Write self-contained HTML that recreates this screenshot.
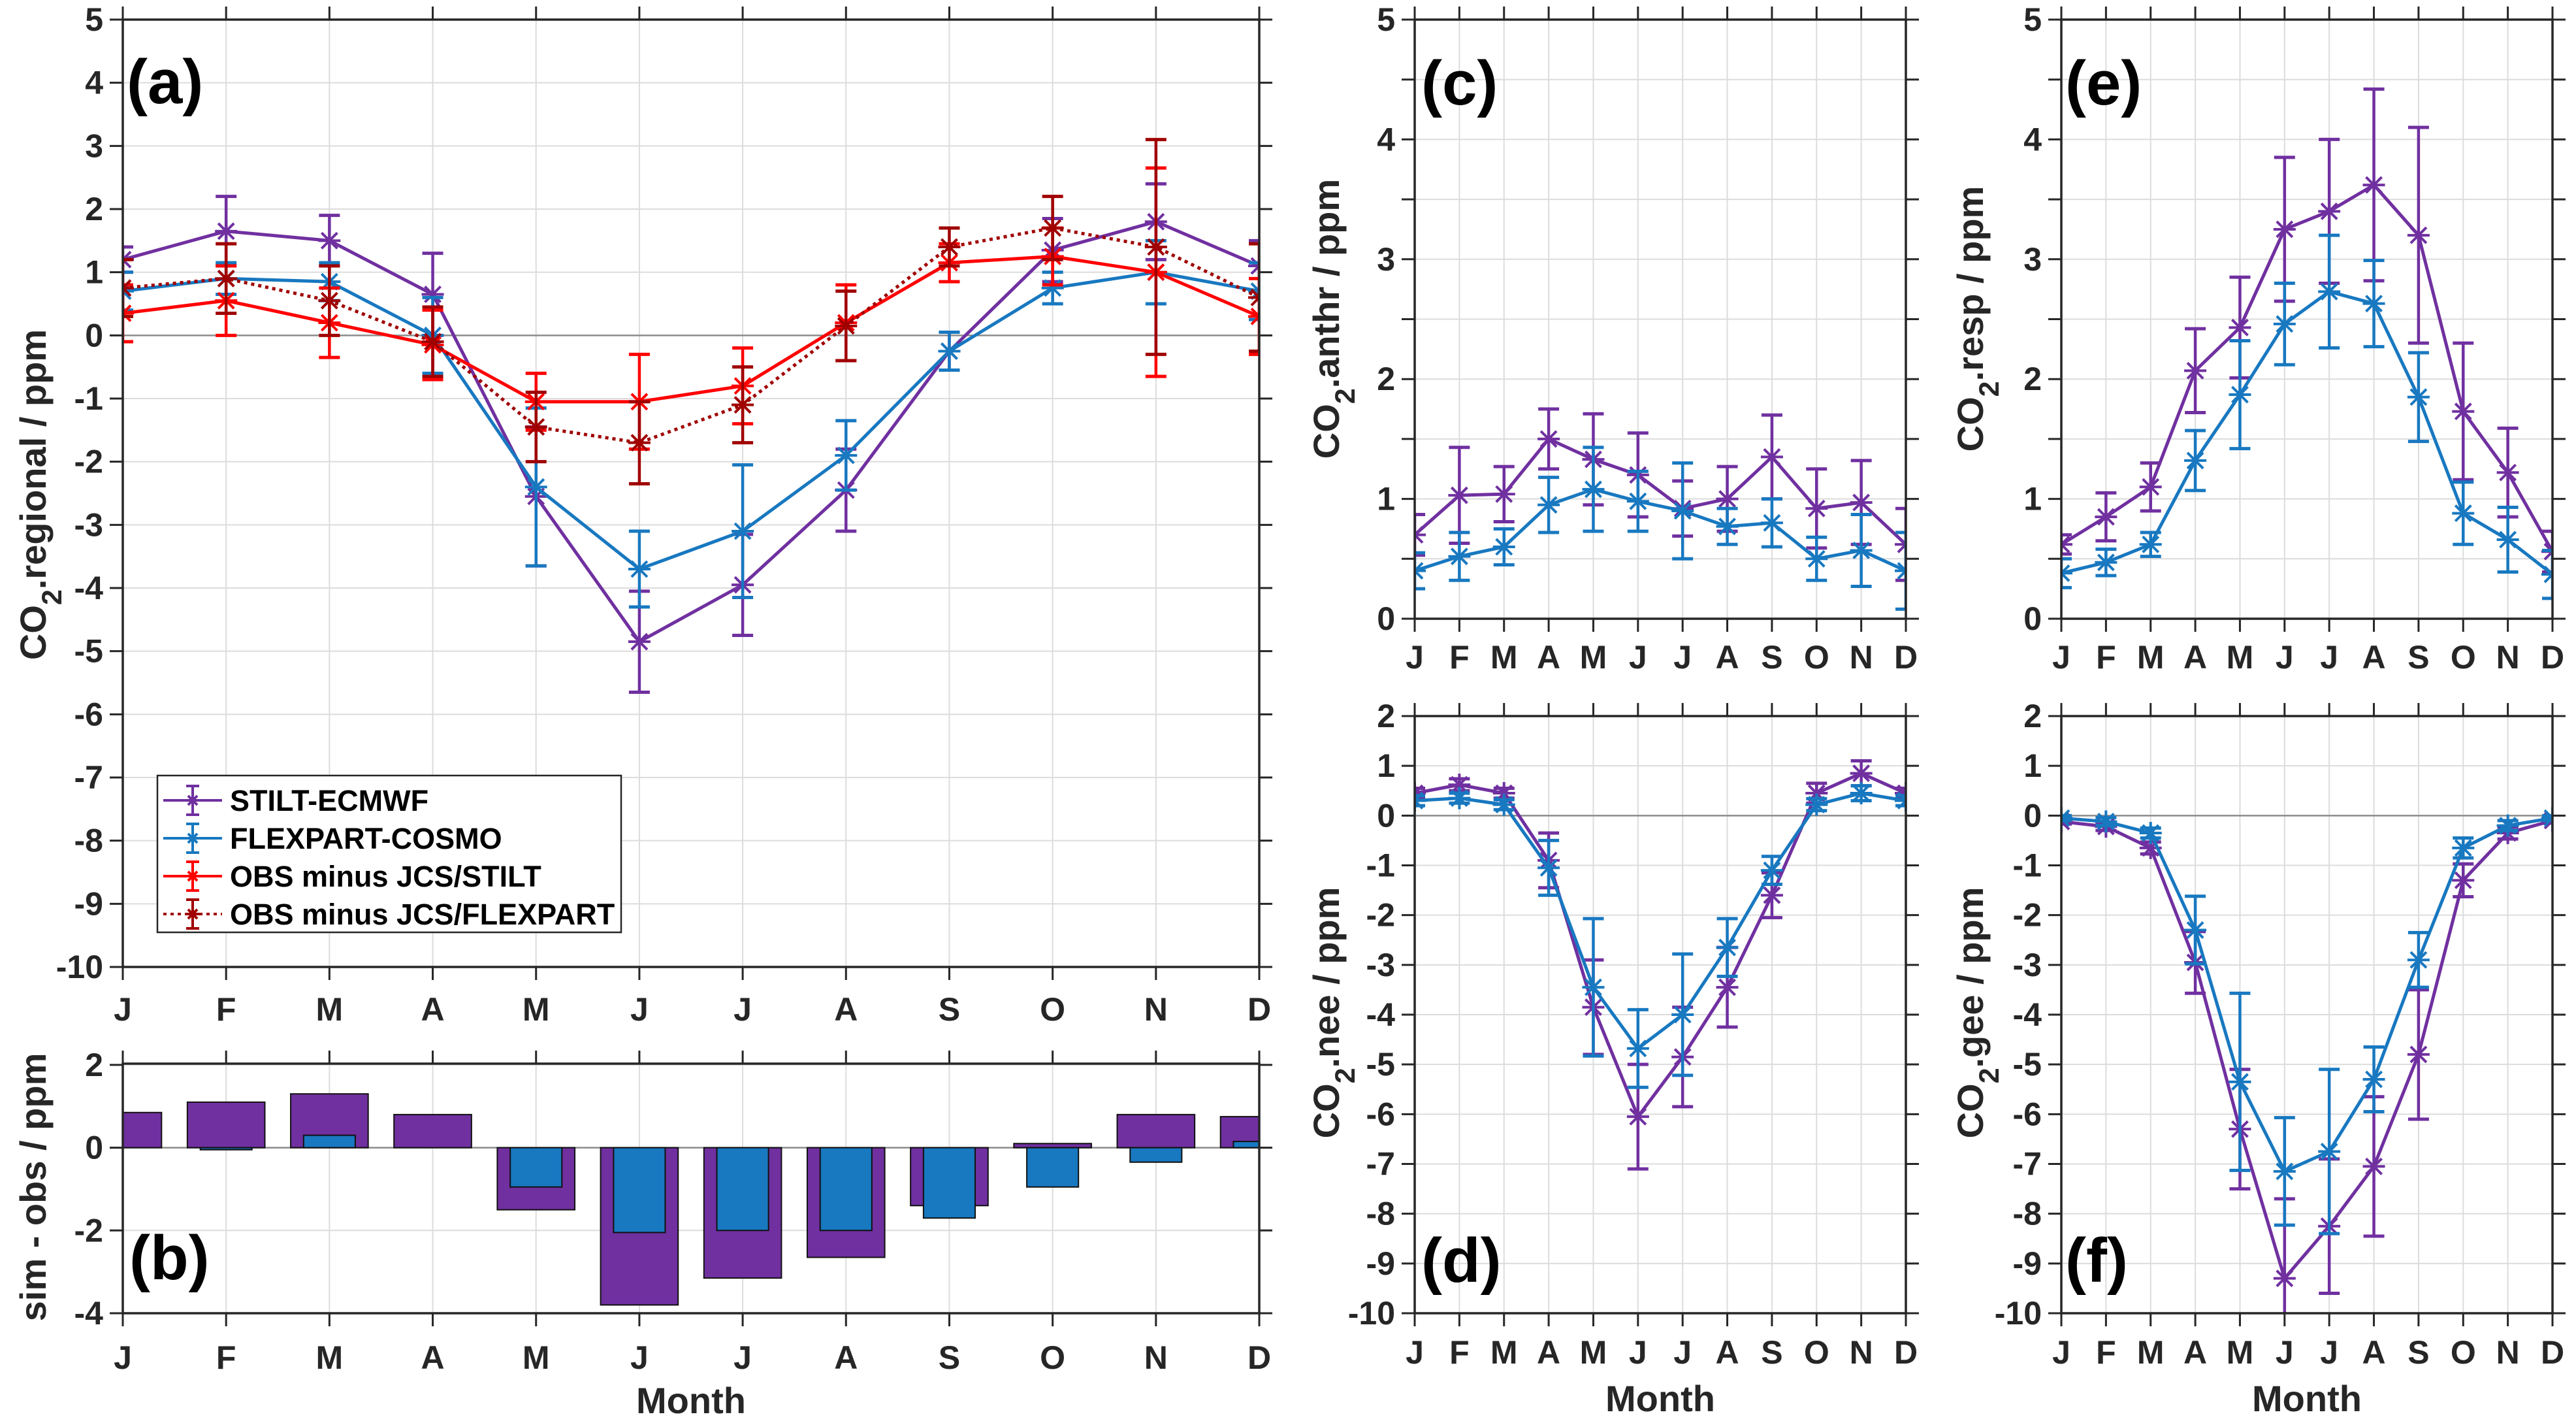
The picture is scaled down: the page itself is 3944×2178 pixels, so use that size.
<!DOCTYPE html>
<html><head><meta charset="utf-8"><style>
html,body{margin:0;padding:0;background:#fff}
svg{display:block;font-family:"Liberation Sans",Arial,sans-serif;font-weight:bold}
</style></head><body>
<svg id="fig" width="3944" height="2178" viewBox="0 0 3944 2178" xmlns="http://www.w3.org/2000/svg"></svg>
<script>
const months = ['J','F','M','A','M','J','J','A','S','O','N','D'];
// Panel a
const aStilt = [1.2,1.65,1.5,0.65,-2.55,-4.85,-3.95,-2.45,-0.25,1.35,1.8,1.1];
const aStiltErr = [0.2,0.55,0.4,0.65,1.1,0.8,0.8,0.65,0.3,0.5,0.6,0.4];
const aFlex = [0.7,0.9,0.85,0.0,-2.4,-3.7,-3.1,-1.9,-0.25,0.75,1.0,0.7];
const aFlexErr = [0.3,0.25,0.3,0.6,1.25,0.6,1.05,0.55,0.3,0.25,0.5,0.45];
const aObsStilt = [0.35,0.55,0.2,-0.15,-1.05,-1.05,-0.8,0.2,1.15,1.25,1.0,0.3];
const aObsStiltErr = [0.45,0.55,0.55,0.55,0.45,0.75,0.6,0.6,0.3,0.45,1.65,0.6];
const aObsFlex = [0.75,0.9,0.55,-0.1,-1.45,-1.7,-1.1,0.15,1.4,1.7,1.4,0.6];
const aObsFlexErr = [0.45,0.55,0.55,0.55,0.55,0.65,0.6,0.55,0.3,0.5,1.7,0.85];
// Panel b
const bStilt = [0.85,1.1,1.3,0.8,-1.5,-3.8,-3.15,-2.65,-1.4,0.1,0.8,0.75];
const bFlex = [0,-0.05,0.3,0,-0.95,-2.05,-2.0,-2.0,-1.7,-0.95,-0.35,0.15];
// Panel c
const cStilt = [0.7,1.03,1.04,1.5,1.33,1.2,0.92,1.0,1.35,0.92,0.97,0.62];
const cStiltErr = [0.17,0.4,0.23,0.25,0.38,0.35,0.23,0.27,0.35,0.33,0.35,0.3];
const cFlex = [0.4,0.52,0.6,0.95,1.08,0.98,0.9,0.77,0.8,0.5,0.57,0.4];
const cFlexErr = [0.15,0.2,0.15,0.23,0.35,0.25,0.4,0.15,0.2,0.18,0.3,0.32];
// Panel e
const eStilt = [0.62,0.85,1.1,2.07,2.43,3.25,3.4,3.62,3.2,1.73,1.22,0.56];
const eStiltErr = [0.08,0.2,0.2,0.35,0.42,0.6,0.6,0.8,0.9,0.57,0.37,0.17];
const eFlex = [0.38,0.47,0.62,1.32,1.87,2.46,2.73,2.63,1.85,0.88,0.66,0.37];
const eFlexErr = [0.12,0.11,0.1,0.25,0.45,0.34,0.47,0.36,0.37,0.26,0.27,0.2];
// Panel d
const dStilt = [0.45,0.62,0.45,-0.9,-3.85,-6.05,-4.85,-3.45,-1.6,0.45,0.85,0.45];
const dStiltErr = [0.1,0.12,0.1,0.55,0.95,1.05,1.0,0.8,0.45,0.2,0.25,0.1];
const dFlex = [0.3,0.35,0.22,-1.05,-3.45,-4.68,-4.0,-2.65,-1.1,0.22,0.45,0.3];
const dFlexErr = [0.1,0.1,0.1,0.55,1.38,0.78,1.22,0.58,0.28,0.12,0.15,0.1];
// Panel f
const fStilt = [-0.12,-0.22,-0.65,-2.95,-6.3,-9.3,-8.25,-7.05,-4.8,-1.3,-0.35,-0.1];
const fStiltErr = [0.05,0.08,0.12,0.62,1.2,1.6,1.35,1.4,1.3,0.33,0.12,0.05];
const fFlex = [-0.05,-0.12,-0.35,-2.3,-5.35,-7.15,-6.75,-5.3,-2.9,-0.65,-0.2,-0.05];
const fFlexErr = [0.05,0.08,0.1,0.68,1.78,1.08,1.65,0.65,0.55,0.2,0.1,0.05];
const legendLabels = ['STILT-ECMWF','FLEXPART-COSMO','OBS minus JCS/STILT','OBS minus JCS/FLEXPART'];

const PURPLE='#7030A0', BLUE='#1878C0', RED='#FF0000', DRED='#A00000', AX='#262626';
const NS='http://www.w3.org/2000/svg';
const svg=document.getElementById('fig');
function mk(tag, attrs, parent){const e=document.createElementNS(NS,tag);for(const k in attrs)e.setAttribute(k,attrs[k]);(parent||svg).appendChild(e);return e;}

function makeAxes(name,L,R,T,B,ymin,ymax,gridVals,labelVals,monthBase){
  const g=mk('g',{});
  
  
  const x=i=>L+i*(R-L)/11;
  const y=v=>B-(v-ymin)*(B-T)/(ymax-ymin);
  gridVals.forEach(v=>{const l=mk('line',{x1:L,x2:R,y1:y(v),y2:y(v),stroke:'#dcdcdc','stroke-width':2},g);
    
    mk('line',{x1:L-20,x2:L,y1:y(v),y2:y(v),stroke:AX,'stroke-width':3},g);
    mk('line',{x1:R,x2:R+20,y1:y(v),y2:y(v),stroke:AX,'stroke-width':3},g);});
  for(let i=0;i<12;i++){const l=mk('line',{x1:x(i),x2:x(i),y1:T,y2:B,stroke:'#dcdcdc','stroke-width':2},g);
    
    mk('line',{x1:x(i),x2:x(i),y1:B,y2:B+20,stroke:AX,'stroke-width':3},g);
    mk('line',{x1:x(i),x2:x(i),y1:T-20,y2:T,stroke:AX,'stroke-width':3},g);
    const t=mk('text',{x:x(i),y:monthBase,'text-anchor':'middle','font-size':50,fill:AX},g);
    t.textContent=months[i];}
  labelVals.forEach(v=>{const t=mk('text',{x:L-30,y:y(v)+17,'text-anchor':'end','font-size':50,fill:AX},g);
    t.textContent=String(v);});
  if(ymin<0&&ymax>0){const z=mk('line',{x1:L,x2:R,y1:y(0),y2:y(0),stroke:'#8c8c8c','stroke-width':2.5},g);
    }
  const clipId='clip-'+name;
  const cp=mk('clipPath',{id:clipId},g);mk('rect',{x:L,y:T,width:R-L,height:B-T},cp);
  const plot=mk('g',{'clip-path':'url(#'+clipId+')'},g);
  const box=mk('rect',{x:L,y:T,width:R-L,height:B-T,fill:'none',stroke:AX,'stroke-width':3.5},g);
  
  return {g,plot,x,y,L,R,T,B};
}
function star(p,cx,cy,col,r){for(let k=0;k<4;k++){const a=k*Math.PI/4;
  mk('line',{x1:cx-r*Math.cos(a),y1:cy-r*Math.sin(a),x2:cx+r*Math.cos(a),y2:cy+r*Math.sin(a),stroke:col,'stroke-width':4},p);}}
function series(ax,vals,errs,col,name,dash){
  const g=mk('g',{},ax.plot);
  
  
  const pts=vals.map((v,i)=>ax.x(i)+','+ax.y(v)).join(' ');
  const pl=mk('polyline',{points:pts,fill:'none',stroke:col,'stroke-width':5,'stroke-linejoin':'round'},g);
  if(dash)pl.setAttribute('stroke-dasharray','5 6');
  
  vals.forEach((v,i)=>{const cx=ax.x(i),cw=16;
    const e=mk('g',{},g);
    
    
    const y1=ax.y(v-errs[i]),y2=ax.y(v+errs[i]);
    mk('line',{x1:cx,x2:cx,y1:y1,y2:y2,stroke:col,'stroke-width':4.5},e);
    mk('line',{x1:cx-cw,x2:cx+cw,y1:y1,y2:y1,stroke:col,'stroke-width':5},e);
    mk('line',{x1:cx-cw,x2:cx+cw,y1:y2,y2:y2,stroke:col,'stroke-width':5},e);
    star(e,cx,ax.y(v),col,17);});
}
function bars(ax,vals,col,frac,name){
  const step=(ax.R-ax.L)/11;
  vals.forEach((v,i)=>{const w=step*frac,y0=ax.y(0),yv=ax.y(v);
    const r=mk('rect',{x:ax.x(i)-w/2,y:Math.min(y0,yv),width:w,height:Math.abs(yv-y0),fill:col,stroke:'#111','stroke-width':2},ax.plot);
    
    });
}
function ylabel(cx,cy,main,rest,name){
  const t=mk('text',{transform:`translate(${cx},${cy}) rotate(-90)`,'text-anchor':'middle','font-size':56,fill:AX});
  
  
  const a=mk('tspan',{},t);a.textContent=main;
  if(rest!==null){
    const s=mk('tspan',{'baseline-shift':'sub','font-size':43},t);s.textContent='2';
    const b=mk('tspan',{},t);b.textContent=rest;}
  return t;
}
function plainText(x,y,txt,size,name,anchor){const t=mk('text',{x:x,y:y,'font-size':size,fill:name.startsWith('panel')?'#000':AX,'text-anchor':anchor||'start'});
  t.textContent=txt;return t;}

const rng=(a,b,s)=>{const r=[];for(let v=a;v<=b+1e-9;v+=s)r.push(Math.round(v*10)/10);return r;};

// Panel a
const A=makeAxes('panel-a-axes',188,1928,30,1480,-10,5,rng(-10,5,1),rng(-10,5,1),1562);
series(A,aStilt,aStiltErr,PURPLE,'stilt-ecmwf-series');
series(A,aFlex,aFlexErr,BLUE,'flexpart-cosmo-series');
series(A,aObsStilt,aObsStiltErr,RED,'obs-minus-jcs-stilt-series');
series(A,aObsFlex,aObsFlexErr,DRED,'obs-minus-jcs-flexpart-series',true);
ylabel(70,757,'CO','.regional / ppm','y-axis-title-a');
plainText(194,158,'(a)',96,'panel-label-a');
// legend
const lg=mk('g',{});


mk('rect',{x:241,y:1187,width:710,height:240,fill:'#fff',stroke:AX,'stroke-width':2.5},lg);
const legCols=[PURPLE,BLUE,RED,DRED];
legendLabels.forEach((lab,k)=>{const yy=1225+k*58;
  const e=mk('g',{},lg);
  
  
  const l=mk('line',{x1:250,x2:340,y1:yy,y2:yy,stroke:legCols[k],'stroke-width':4},e);
  if(k===3)l.setAttribute('stroke-dasharray','5 6');
  mk('line',{x1:295,x2:295,y1:yy-22,y2:yy+22,stroke:legCols[k],'stroke-width':4},e);
  mk('line',{x1:285,x2:305,y1:yy-22,y2:yy-22,stroke:legCols[k],'stroke-width':4},e);
  mk('line',{x1:285,x2:305,y1:yy+22,y2:yy+22,stroke:legCols[k],'stroke-width':4},e);
  star(e,295,yy,legCols[k],10);
  const t=mk('text',{x:352,y:yy+16,'font-size':45,fill:'#000'},e);t.textContent=lab;});

// Panel b
const Bx=makeAxes('panel-b-axes',188,1928,1628,2010,-4,2.03,[-4,-2,0,2],[-4,-2,0,2],2095);
bars(Bx,bStilt,PURPLE,0.75,'bar-stilt');
bars(Bx,bFlex,BLUE,0.5,'bar-flexpart');
ylabel(70,1817,'sim - obs / ppm',null,'y-axis-title-b');
plainText(198,1958,'(b)',96,'panel-label-b');
plainText(1058,2163,'Month',56,'x-axis-title-ab','middle');

// Panel c
const C=makeAxes('panel-c-axes',2166,2918,30,947,0,5,rng(0,5,0.5),[0,1,2,3,4,5],1023);
series(C,cStilt,cStiltErr,PURPLE,'stilt-anthr-series');
series(C,cFlex,cFlexErr,BLUE,'flexpart-anthr-series');
ylabel(2050,488,'CO','.anthr / ppm','y-axis-title-c');
plainText(2176,160,'(c)',96,'panel-label-c');

// Panel e
const E=makeAxes('panel-e-axes',3156,3908,30,947,0,5,rng(0,5,0.5),[0,1,2,3,4,5],1023);
series(E,eStilt,eStiltErr,PURPLE,'stilt-resp-series');
series(E,eFlex,eFlexErr,BLUE,'flexpart-resp-series');
ylabel(3036,488,'CO','.resp / ppm','y-axis-title-e');
plainText(3162,160,'(e)',96,'panel-label-e');

// Panel d
const D=makeAxes('panel-d-axes',2166,2918,1096,2010,-10,2,rng(-10,2,1),rng(-10,2,1),2087);
series(D,dStilt,dStiltErr,PURPLE,'stilt-nee-series');
series(D,dFlex,dFlexErr,BLUE,'flexpart-nee-series');
ylabel(2050,1550,'CO','.nee / ppm','y-axis-title-d');
plainText(2176,1962,'(d)',96,'panel-label-d');
plainText(2542,2160,'Month',56,'x-axis-title-cd','middle');

// Panel f
const F=makeAxes('panel-f-axes',3156,3908,1096,2010,-10,2,rng(-10,2,1),rng(-10,2,1),2087);
series(F,fStilt,fStiltErr,PURPLE,'stilt-gee-series');
series(F,fFlex,fFlexErr,BLUE,'flexpart-gee-series');
ylabel(3036,1550,'CO','.gee / ppm','y-axis-title-f');
plainText(3162,1962,'(f)',96,'panel-label-f');
plainText(3532,2160,'Month',56,'x-axis-title-ef','middle');
</script>
</body></html>
